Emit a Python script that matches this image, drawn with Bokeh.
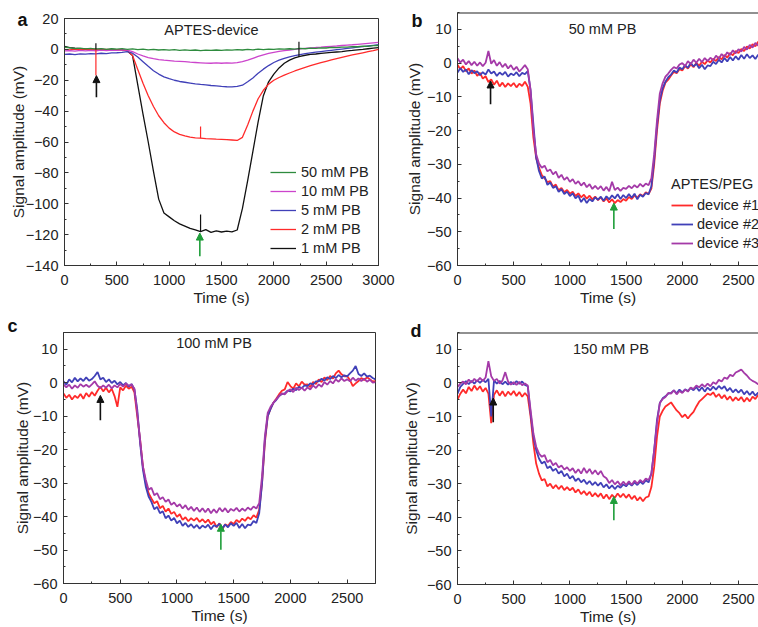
from bokeh.plotting import figure
from bokeh.models import (SingleIntervalTicker, Legend, LegendItem, Label, Span,
                          Arrow, NormalHead, Range1d)
from bokeh.layouts import column, row
from bokeh.embed import file_html
from bokeh.resources import INLINE

FONT = "Liberation Sans"

# ---------------- panel a: APTES-device ----------------
t_a = list(range(0, 3001, 50))
a_50mM = [1.5, 1.0, 0.5, 0.8, 0.3, 0.6, 0.2, 0.5, 0.0, 0.4,
          0.2, 0.5, 0.0, 0.3, -0.2, 0.1, -0.3, 0.0, -0.4, -0.1,
          -0.5, -0.2, -0.6, -0.3, -0.7, -0.4, -0.8, -0.5, -0.7, -0.4,
          -0.6, -0.3, -0.5, -0.2, -0.4, 0.0, -0.3, 0.1, -0.2, 0.2,
          0.0, 0.3, 0.1, 0.4, 0.2, 0.6, 0.4, 0.8, 0.6, 1.0,
          0.9, 1.3, 1.1, 1.5, 1.4, 1.8, 1.7, 2.1, 2.0, 2.4,
          2.5]
a_10mM = [-1.0, -0.8, -1.2, -0.7, -1.0, -0.6, -0.9, -0.5, -0.8, -0.4,
          -0.6, -0.3, -0.5, -1.5, -3.0, -4.2, -5.3, -6.0, -6.6, -7.0,
          -7.3, -7.6, -7.8, -8.0, -8.3, -8.5, -8.7, -8.9, -9.0, -8.8,
          -9.0, -8.8, -8.9, -8.6, -8.0, -7.0, -5.8, -4.6, -3.5, -2.6,
          -1.9, -1.3, -0.8, -0.4, 0.0, 0.3, 0.6, 0.9, 1.2, 1.4,
          1.7, 2.0, 2.2, 2.5, 2.8, 3.0, 3.3, 3.6, 3.9, 4.2,
          4.5]
a_5mM = [-3.2, -3.0, -3.4, -2.9, -3.1, -2.7, -2.9, -2.5, -2.7, -2.3,
         -2.2, -1.9, -1.5, -2.5, -5.0, -8.0, -11.0, -13.8, -16.0, -17.8,
         -19.0, -20.0, -20.8, -21.3, -21.8, -22.3, -22.7, -23.0, -23.4, -23.6,
         -24.0, -24.2, -24.3, -24.0, -23.2, -21.0, -18.5, -15.5, -12.8, -10.5,
         -8.5, -7.0, -5.8, -4.8, -4.0, -3.4, -2.8, -2.3, -1.8, -1.4,
         -1.0, -0.6, -0.2, 0.2, 0.6, 1.0, 1.4, 1.8, 2.2, 2.6,
         3.0]
a_2mM = [0.0, -0.3, 0.2, -0.2, 0.1, -0.2, 0.0, -0.3, 0.0, -0.4,
         -0.2, -0.5, -0.8, -4.0, -13.0, -22.0, -30.0, -37.0, -43.0, -47.5,
         -51.0, -53.5, -55.0, -56.0, -56.8, -57.3, -57.5, -57.8, -58.0, -58.2,
         -58.3, -58.5, -58.7, -59.0, -57.0, -49.0, -40.0, -32.0, -26.5, -22.5,
         -20.0, -18.2, -16.7, -15.3, -14.0, -12.8, -11.7, -10.6, -9.6, -8.6,
         -7.7, -6.8, -6.0, -5.2, -4.4, -3.6, -2.9, -2.2, -1.5, -0.8,
         0.0]
a_1mM = [2.0, 1.2, 0.8, 0.5, 0.3, 0.2, 0.0, 0.1, -0.1, 0.0,
         -0.2, -0.1, -1.0, -4.0, -23.0, -42.0, -60.0, -79.0, -97.0, -106.0,
         -108.5, -111.0, -113.0, -114.5, -116.0, -117.0, -118.0, -116.8, -118.5, -117.6,
         -118.3, -117.8, -118.2, -117.0, -103.0, -85.0, -66.0, -47.0, -30.0, -21.0,
         -16.0, -12.0, -9.0, -7.0, -5.5, -4.5, -3.8, -3.3, -3.0, -2.6,
         -2.3, -2.0, -1.7, -1.4, -1.0, -0.7, -0.3, 0.0, 0.4, 0.8,
         1.2]
# short injection spikes in panel a
spike_a_t = [300, 300, 1300, 1300, 2240]
spike_a_lo = [-17.0, 0.0, -57.5, -118.0, -5.0]
spike_a_hi = [0.0, 4.0, -50.0, -107.0, 5.0]
spike_a_color = ["#ff2a2a", "#111111", "#ff2a2a", "#111111", "#111111"]

# ---------------- panels b, c, d: APTES/PEG devices ----------------
t_bcd = list(range(0, 2751, 25))

b_dev1 = [-0.5, -1.8, -0.9, -2.4, -1.6, -3.1, -2.2, -3.8, -2.9, -4.6,
          -3.9, -5.6, -4.8, -6.4, -5.2, -6.9, -5.8, -7.1, -6.0, -6.8,
          -5.9, -7.2, -6.1, -6.8, -5.5, -7.0, -12.0, -22.0, -28.2, -31.0,
          -33.2, -34.1, -35.3, -35.0, -36.6, -36.0, -37.7, -37.0, -38.3, -37.6,
          -38.7, -38.1, -39.4, -38.6, -39.8, -39.0, -40.2, -39.3, -40.4, -39.6,
          -40.6, -39.8, -41.0, -40.1, -41.3, -40.4, -41.5, -40.6, -41.2, -40.3,
          -40.8, -39.7, -40.3, -39.2, -39.9, -38.9, -39.4, -38.3, -38.8, -37.2,
          -30.0, -20.0, -12.0, -8.2, -5.8, -4.9, -3.7, -2.6, -3.0, -1.8,
          -2.2, -0.9, -1.6, -0.4, -1.2, 0.1, -0.8, 0.4, -0.3, 0.8,
          0.2, 1.3, 0.6, 1.8, 1.1, 2.4, 1.6, 3.0, 2.3, 3.6,
          3.0, 4.2, 3.6, 4.9, 4.3, 5.6, 5.0, 6.3, 5.6, 6.8,
          6.2]
b_dev2 = [-2.8, -1.5, -2.6, -1.9, -3.3, -2.1, -3.0, -2.4, -3.6, -2.7,
          -3.4, -1.9, -3.1, -2.5, -3.8, -2.8, -3.5, -2.6, -4.0, -3.1,
          -3.6, -2.7, -3.9, -2.9, -3.3, -2.4, -8.0, -18.0, -28.0, -32.0,
          -34.2, -33.6, -36.1, -35.4, -37.0, -36.5, -38.2, -37.4, -38.8, -38.1,
          -39.4, -38.6, -40.1, -39.3, -41.2, -40.0, -41.5, -40.3, -41.0, -39.8,
          -40.5, -39.6, -40.8, -39.5, -40.4, -39.2, -40.1, -38.9, -40.3, -39.1,
          -40.0, -38.8, -39.9, -38.7, -40.4, -39.0, -39.6, -38.5, -38.9, -36.5,
          -28.5, -18.5, -11.0, -7.5, -5.5, -4.2, -3.4, -2.2, -2.8, -1.3,
          -1.8, -0.6, -1.4, 0.1, -1.0, -0.2, -1.5, -0.5, -1.8, -0.7,
          -0.9, 0.4, -0.3, 1.0, 0.2, 1.5, 0.5, 1.8, 0.8, 2.0,
          1.0, 2.4, 1.3, 2.6, 1.5, 2.3, 1.2, 2.5, 1.6, 2.8,
          2.2]
b_dev3 = [1.4, 0.2, 1.0, -0.4, 0.6, -0.6, 0.4, -0.8, 0.2, -0.9,
          0.1, 3.6, -0.2, 0.9, -0.8, 0.3, -1.2, -0.2, -1.6, -0.6,
          -2.0, -1.1, -2.5, -1.6, -0.6, -1.8, -8.0, -20.0, -27.0, -29.8,
          -31.0, -30.4, -32.1, -31.5, -33.0, -32.2, -34.0, -33.1, -34.6, -33.8,
          -35.2, -34.4, -35.8, -35.0, -36.3, -35.4, -36.8, -35.9, -37.3, -36.4,
          -37.4, -36.5, -37.8, -36.7, -38.0, -35.2, -37.6, -36.9, -37.9, -37.0,
          -37.3, -36.4, -37.1, -36.2, -36.9, -35.8, -36.6, -35.7, -36.2, -34.2,
          -27.0, -17.0, -9.0, -6.0, -4.0, -3.1, -2.0, -1.2, -1.6, -0.4,
          0.0, -0.9, 0.6, -0.3, 1.0, 0.1, 1.3, 0.3, 1.5, 0.6,
          1.6, 0.8, 2.2, 1.3, 2.7, 1.8, 3.2, 2.4, 3.8, 2.9,
          4.1, 3.4, 4.8, 4.0, 5.4, 4.6, 6.0, 5.2, 6.6, 5.8,
          7.0]

c_dev1 = [-3.2, -4.5, -3.6, -5.0, -3.9, -4.6, -3.4, -4.8, -3.1, -4.2,
          -2.8, -3.9, -2.4, -1.2, -2.6, -1.5, -2.9, -1.8, -4.0, -7.2,
          -1.4, -2.3, -0.9, -1.8, -1.2, -2.9, -10.0, -17.0, -25.0, -30.0,
          -33.0, -34.6, -36.0, -35.4, -37.5, -36.8, -38.5, -37.6, -39.2, -38.6,
          -40.1, -39.3, -41.0, -40.2, -41.4, -40.5, -41.2, -40.4, -41.6, -40.8,
          -41.8, -40.9, -42.3, -41.5, -43.2, -42.0, -43.8, -42.3, -42.8, -41.6,
          -42.2, -41.0, -41.7, -40.6, -41.3, -40.2, -40.8, -39.6, -40.3, -38.0,
          -30.0, -18.0, -10.0, -7.8, -6.0, -4.8, -3.5, -2.4, -2.0, 0.2,
          -1.0, -1.8, -0.2, -1.1, 0.3, -0.6, -0.5, -1.3, 0.2, -0.4,
          1.0, 0.2, 1.6, 0.8, 2.0, 1.2, 2.8, 3.6, 2.5, 1.9,
          2.0, 0.8, -1.0, -0.2, 0.5, 1.4, 0.8, 1.6, 1.0, 0.4,
          0.5]
c_dev2 = [0.4, -0.6, 1.0, 0.1, 1.5, 0.4, 1.3, 0.5, 1.6, 0.6,
          1.1, 2.0, 3.2, 1.0, 1.5, 0.2, 1.0, -0.1, 0.6, -0.5,
          0.2, -0.8, -0.1, -1.2, -0.4, -2.0, -8.0, -18.0, -26.0, -31.0,
          -34.0, -35.6, -37.8, -37.1, -39.0, -38.4, -40.5, -39.7, -41.2, -40.4,
          -42.0, -41.2, -42.8, -41.9, -43.1, -42.3, -43.4, -42.5, -43.6, -42.7,
          -43.3, -42.4, -43.8, -42.6, -43.0, -42.1, -43.5, -42.4, -43.2, -42.0,
          -42.8, -41.9, -43.4, -42.2, -43.5, -42.4, -42.6, -41.3, -41.9, -39.0,
          -30.0, -17.0, -10.0, -7.8, -6.0, -5.2, -4.0, -3.4, -3.2, -2.4,
          -2.6, -1.8, -2.2, -1.2, -1.6, -0.8, -1.0, -0.2, -0.5, 0.4,
          0.4, 1.2, 0.6, 1.6, 1.1, 2.0, 1.4, 2.3, 1.6, 2.2,
          1.9, 2.8, 3.6, 5.0, 2.6, 2.0, 2.8, 1.8, 2.1, 1.4,
          1.0]
c_dev3 = [-0.5, -1.4, -0.6, -1.8, -0.8, -1.5, -0.4, -1.2, -0.6, -1.3,
          -0.5, 0.4, -0.9, -1.6, -0.8, -1.5, -0.6, -1.7, -0.8, -1.4,
          -0.4, -1.2, -0.2, -0.9, -0.5, -1.8, -9.0, -17.0, -25.0, -29.0,
          -32.0, -31.4, -33.6, -33.0, -34.8, -34.2, -35.6, -34.9, -36.5, -35.8,
          -37.0, -36.3, -37.6, -36.6, -38.0, -37.1, -38.3, -37.3, -38.6, -37.5,
          -38.7, -37.6, -39.0, -37.8, -38.9, -37.4, -38.5, -37.5, -38.8, -37.7,
          -38.3, -37.4, -38.5, -37.6, -38.3, -37.3, -38.0, -37.0, -37.6, -36.0,
          -28.0, -16.0, -9.0, -7.2, -6.0, -5.0, -4.0, -3.2, -3.5, -2.5,
          -2.0, -2.8, -1.5, -2.2, -1.5, -2.4, -1.4, -2.0, -0.8, -1.6,
          -0.5, -1.2, 0.2, -0.6, 0.5, -0.2, 1.0, 0.3, 1.3, 0.5,
          1.0, 0.4, 1.5, 0.6, 1.3, 0.5, 1.2, 0.3, 0.9, 0.0,
          0.2]

d_dev1 = [-5.0, -3.2, -2.0, -3.1, -1.2, -2.4, -0.8, -2.1, -1.0, -2.6,
          -1.5, -3.2, -12.0, -3.5, -2.2, -3.8, -2.5, -4.0, -2.6, -3.6,
          -2.4, -3.9, -2.7, -4.1, -3.0, -4.0, -10.0, -18.0, -24.0, -27.0,
          -29.0, -28.6, -30.8, -30.0, -31.4, -30.4, -31.6, -30.6, -31.9, -31.0,
          -32.0, -31.2, -32.6, -31.7, -33.1, -32.2, -33.4, -32.4, -33.8, -32.8,
          -33.9, -32.9, -34.4, -33.2, -34.6, -33.3, -34.2, -32.9, -34.0, -33.0,
          -34.2, -33.2, -34.6, -33.6, -35.0, -34.0, -35.2, -34.1, -33.8, -31.0,
          -25.0, -16.0, -10.0, -8.3, -7.0, -6.4, -5.8, -7.0, -8.2, -9.0,
          -10.2, -9.4, -10.6, -9.5, -8.6, -7.0, -5.6, -4.8, -4.0, -3.2,
          -3.6, -2.8, -4.2, -3.3, -4.6, -3.6, -5.0, -4.0, -5.4, -4.3,
          -5.2, -4.2, -5.6, -4.4, -5.5, -4.1, -4.8, -3.6, -4.4, -3.4,
          -4.0]
d_dev2 = [-3.2, -1.2, -0.3, 0.5, -0.4, 0.6, -0.2, 0.8, 0.0, 0.9,
          0.2, 1.2, -10.0, 0.8, -0.2, 0.6, -0.4, 0.4, -0.5, 0.3,
          -0.4, 0.5, -0.3, 0.4, -0.6, -1.0, -9.0, -16.0, -20.0, -22.5,
          -24.0, -23.4, -25.4, -24.8, -26.2, -25.5, -27.0, -26.2, -27.8, -27.0,
          -28.5, -27.7, -29.2, -28.4, -29.6, -28.8, -30.1, -29.2, -30.4, -29.5,
          -30.6, -29.7, -31.1, -30.2, -31.4, -30.5, -31.6, -30.6, -31.2, -30.2,
          -30.8, -29.8, -30.6, -29.6, -30.4, -29.4, -30.1, -29.0, -29.6, -27.0,
          -20.0, -11.0, -6.0, -4.6, -4.0, -3.2, -3.0, -2.2, -3.1, -2.0,
          -2.8, -1.9, -2.4, -1.5, -2.2, -1.2, -2.4, -1.3, -2.6, -1.4,
          -2.2, -1.1, -2.0, -0.9, -1.8, -1.0, -2.4, -1.5, -2.8, -1.9,
          -2.9, -2.0, -3.4, -2.4, -3.6, -2.6, -3.8, -2.9, -4.1, -3.2,
          -4.0]
d_dev3 = [-1.2, -0.2, 0.4, -0.4, 1.0, 0.1, 1.2, 0.4, 1.5, 0.6,
          1.6, 6.5, 2.0, 0.6, 1.2, -0.2, 0.7, 3.2, 0.4, -0.5,
          0.2, -0.6, 0.3, -0.7, -0.2, -0.8, -8.0, -15.0, -19.0, -21.0,
          -22.0, -21.5, -23.6, -22.9, -24.5, -23.8, -25.2, -24.6, -25.8, -25.1,
          -26.2, -25.4, -26.8, -25.7, -27.0, -25.3, -26.8, -25.6, -27.1, -26.0,
          -27.3, -26.2, -27.8, -28.4, -29.8, -28.9, -30.2, -29.3, -30.5, -29.4,
          -30.4, -29.3, -30.3, -29.1, -30.0, -28.9, -29.6, -28.5, -28.9, -27.0,
          -20.0, -12.0, -6.0, -4.8, -4.2, -3.0, -3.2, -2.2, -3.4, -2.4,
          -3.0, -2.0, -2.6, -1.4, -1.8, -0.8, -1.3, -0.4, -1.2, -0.2,
          -1.0, 0.2, -0.3, 0.9, 0.4, 1.6, 1.2, 2.4, 2.0, 3.1,
          3.5, 4.0, 3.0, 2.2, 1.2, 0.6, 0.2, -0.4, 0.0, -0.6,
          -0.2]

# arrows: x position, tail value, head value (black = injection, green = second event)
arrows_a = dict(x=[305, 1293], tail=[-31, -134], head=[-17, -119])
arrows_b = dict(x=[294, 1391], tail=[-12.2, -49.2], head=[-5.3, -41.5])
arrows_c = dict(x=[325, 1387], tail=[-11.2, -49.9], head=[-3.8, -42.3])
arrows_d = dict(x=[318, 1391], tail=[-11.7, -40.9], head=[-4.5, -33.8])
ARROW_COLORS = ["#111111", "#1f9e3a"]

labels_a = ["50 mM PB", "10 mM PB", "5 mM PB", "2 mM PB", "1 mM PB"]
labels_dev = ["device #1", "device #2", "device #3"]
legend_title_dev = "APTES/PEG"

C_RED = "#ff2a2a"
C_BLUE = "#4040b8"
C_PURPLE = "#a43aa8"
C_MAG = "#cc44cc"
C_GREEN = "#2e8b3e"
C_BLACK = "#111111"
AX = "#333333"
TXT = "#222222"


def style_axis(ax, label_standoff):
    ax.axis_line_color = AX
    ax.major_tick_line_color = AX
    ax.minor_tick_line_color = AX
    ax.major_tick_in = 4
    ax.major_tick_out = 0
    ax.minor_tick_in = 2
    ax.minor_tick_out = 0
    ax.major_label_text_font = FONT
    ax.major_label_text_font_size = "14.5px"
    ax.major_label_text_color = TXT
    ax.major_label_standoff = label_standoff
    ax.axis_label_text_font = FONT
    ax.axis_label_text_font_size = "15.5px"
    ax.axis_label_text_font_style = "normal"
    ax.axis_label_text_color = TXT


def make_panel(width, height, xmax, ymin, ymax, yint, mb_left, mb_right, mb_top, mb_bottom,
               cropped, ylab_standoff, letter, letter_offset, letter_standoff):
    p = figure(width=width, height=height, output_backend="svg", toolbar_location=None,
               x_range=Range1d(0, xmax), y_range=Range1d(ymin, ymax),
               min_border_left=mb_left, min_border_right=mb_right,
               min_border_top=mb_top, min_border_bottom=mb_bottom,
               x_axis_label="Time (s)", y_axis_label="Signal amplitude (mV)")
    p.xaxis.ticker = SingleIntervalTicker(interval=500, num_minor_ticks=2)
    p.yaxis.ticker = SingleIntervalTicker(interval=yint, num_minor_ticks=2)
    p.grid.visible = False
    p.background_fill_color = "white"
    p.border_fill_color = "white"
    for ax in p.xaxis:
        style_axis(ax, 9)
        ax.axis_label_standoff = 1
    for ax in p.yaxis:
        style_axis(ax, 6)
        ax.axis_label_standoff = ylab_standoff
    if cropped:
        # right side of the panel is cut off: draw only the top edge of the frame
        p.outline_line_color = None
        p.add_layout(Span(location=ymax, dimension="width", line_color="#222222", line_width=2))
    else:
        p.outline_line_color = AX
        p.outline_line_width = 1
    # panel letter, drawn as the plot title shifted left of the frame
    p.title.text = letter
    p.title.align = "left"
    p.title.offset = letter_offset
    p.title.standoff = letter_standoff
    p.title.vertical_align = "bottom"
    p.title.text_font = FONT
    p.title.text_font_size = "18px"
    p.title.text_font_style = "bold"
    p.title.text_color = "#111111"
    return p


def add_title(p, x, y, text):
    p.add_layout(Label(x=x, y=y, text=text, text_font=FONT, text_font_size="14.5px",
                       text_font_style="normal", text_color=TXT,
                       text_align="center", text_baseline="middle"))


def add_arrows(p, arr):
    for x, tl, hd, col in zip(arr["x"], arr["tail"], arr["head"], ARROW_COLORS):
        p.add_layout(Arrow(x_start=x, y_start=tl, x_end=x, y_end=hd,
                           line_color=col, line_width=1.6,
                           end=NormalHead(size=7, fill_color=col, line_color=col)))


# ---------------- build panel a ----------------
pa = make_panel(395, 308, 3000, -140, 20, 20, 64, 17, 18, 39, False, -4, "a", -47, -22)
ra1 = pa.line(t_a, a_1mM, color=C_BLACK, line_width=1.3)
ra2 = pa.line(t_a, a_2mM, color=C_RED, line_width=1.3)
ra5 = pa.line(t_a, a_5mM, color=C_BLUE, line_width=1.3)
ra10 = pa.line(t_a, a_10mM, color=C_MAG, line_width=1.3)
ra50 = pa.line(t_a, a_50mM, color=C_GREEN, line_width=1.3)
pa.segment(x0=spike_a_t, y0=spike_a_lo, x1=spike_a_t, y1=spike_a_hi, color=spike_a_color, line_width=1.2)
add_arrows(pa, arrows_a)
add_title(pa, 1404, 12.4, "APTES-device")
leg_a = Legend(items=[LegendItem(label=l, renderers=[r]) for l, r in
                      zip(labels_a, [ra50, ra10, ra5, ra2, ra1])],
               location=(206, 9), padding=0, margin=0, spacing=3,
               glyph_width=26, glyph_height=16, label_height=16, label_standoff=5,
               label_text_font=FONT, label_text_font_size="14.5px", label_text_color=TXT,
               background_fill_alpha=0, border_line_color=None)
pa.add_layout(leg_a)


def device_panel(width, height, xmax, mb_left, mb_right, mb_top, mb_bottom, cropped, ylab_standoff,
                 d1, d2, d3, arr, title, tx, ty, letter, loff, lstand, legend=False):
    p = make_panel(width, height, xmax, -60, 15, 10, mb_left, mb_right, mb_top, mb_bottom,
                   cropped, ylab_standoff, letter, loff, lstand)
    r1 = p.line(t_bcd, d1, color=C_RED, line_width=1.8)
    r2 = p.line(t_bcd, d2, color=C_BLUE, line_width=1.8)
    r3 = p.line(t_bcd, d3, color=C_PURPLE, line_width=1.8)
    add_arrows(p, arr)
    add_title(p, tx, ty, title)
    if legend:
        lg = Legend(items=[LegendItem(label=l, renderers=[r]) for l, r in zip(labels_dev, [r1, r2, r3])],
                    title=legend_title_dev, title_text_font=FONT, title_text_font_size="14.5px",
                    title_text_font_style="normal", title_text_color=TXT, title_standoff=5,
                    location=(214, 14), padding=0, margin=0, spacing=3,
                    glyph_width=22, glyph_height=16, label_height=16, label_standoff=4,
                    label_text_font=FONT, label_text_font_size="14.5px", label_text_color=TXT,
                    background_fill_alpha=0, border_line_color=None)
        p.add_layout(lg)
    return p


pb = device_panel(363, 308, 2678, 62, 0, 12, 43, True, 1, b_dev1, b_dev2, b_dev3, arrows_b,
                  "50 mM PB", 1290, 10, "b", -46, -37, legend=True)
pc = device_panel(395, 319, 2750, 63, 20, 24, 44, False, -1, c_dev1, c_dev2, c_dev3, arrows_c,
                  "100 mM PB", 1327, 12, "c", -56, -6)
pd = device_panel(363, 319, 2678, 62, 0, 24, 43, True, 4, d_dev1, d_dev2, d_dev3, arrows_d,
                  "150 mM PB", 1365, 10, "d", -47, -16)

# each figure wrapped on its own so that frames are not aligned across a row
layout = column(row(column(pa), column(pb)), row(column(pc), column(pd)))
open("out.html", "w").write(file_html(layout, INLINE))
